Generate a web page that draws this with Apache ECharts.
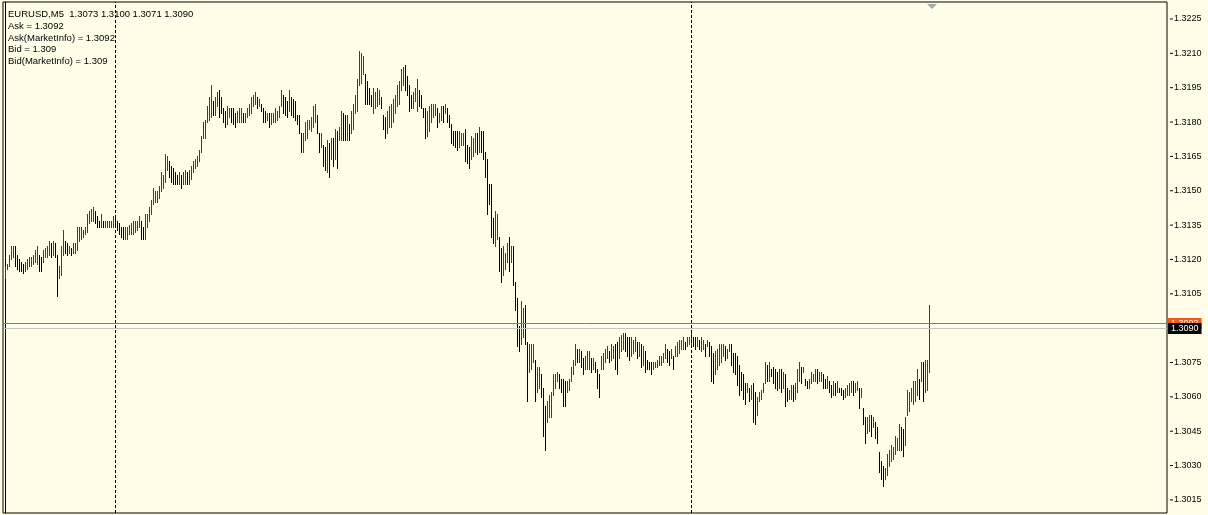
<!DOCTYPE html>
<html>
<head>
<meta charset="utf-8">
<script src="https://cdn.jsdelivr.net/npm/echarts@6/dist/echarts.min.js"></script>
<style>
html,body{margin:0;padding:0;background:#fffde8;}
#chart{width:1208px;height:515px;}
</style>
</head>
<body>
<div id="chart"></div>
<script>
// ---- data (EURUSD M5 bars, high / low) ----
const highs = [
1.3117,1.3118,1.3122,1.3126,1.3126,1.3126,1.3122,1.3120,1.3119,1.3118,
1.3119,1.3120,1.3121,1.3121,1.3122,1.3124,1.3126,1.3122,1.3121,1.3124,
1.3125,1.3126,1.3128,1.3127,1.3128,1.3127,1.3122,1.3117,1.3126,1.3133,
1.3128,1.3127,1.3126,1.3125,1.3127,1.3127,1.3134,1.3134,1.3134,1.3133,
1.3134,1.3140,1.3141,1.3142,1.3143,1.3141,1.3139,1.3137,1.3140,1.3137,
1.3137,1.3137,1.3137,1.3137,1.3139,1.3138,1.3137,1.3136,1.3134,1.3134,
1.3134,1.3134,1.3135,1.3136,1.3137,1.3137,1.3137,1.3139,1.3137,1.3134,
1.3140,1.3140,1.3143,1.3146,1.3151,1.3150,1.3150,1.3152,1.3158,1.3157,
1.3166,1.3165,1.3163,1.3161,1.3160,1.3158,1.3157,1.3158,1.3157,1.3158,
1.3159,1.3158,1.3159,1.3161,1.3163,1.3164,1.3165,1.3168,1.3174,1.3180,
1.3181,1.3187,1.3191,1.3196,1.3189,1.3191,1.3193,1.3194,1.3191,1.3186,
1.3185,1.3187,1.3186,1.3186,1.3186,1.3184,1.3185,1.3186,1.3186,1.3184,
1.3184,1.3186,1.3188,1.3191,1.3192,1.3193,1.3191,1.3190,1.3188,1.3186,
1.3185,1.3184,1.3184,1.3184,1.3184,1.3186,1.3185,1.3187,1.3194,1.3192,
1.3191,1.3189,1.3194,1.3191,1.3190,1.3189,1.3183,1.3183,1.3175,1.3175,
1.3180,1.3181,1.3181,1.3182,1.3187,1.3188,1.3183,1.3175,1.3175,1.3170,
1.3169,1.3172,1.3171,1.3173,1.3173,1.3177,1.3176,1.3178,1.3185,1.3184,
1.3183,1.3183,1.3179,1.3185,1.3188,1.3192,1.3199,1.3211,1.3210,1.3209,
1.3201,1.3198,1.3195,1.3192,1.3195,1.3193,1.3195,1.3194,1.3191,1.3183,
1.3182,1.3185,1.3187,1.3188,1.3190,1.3192,1.3196,1.3198,1.3203,1.3204,
1.3205,1.3200,1.3196,1.3192,1.3193,1.3195,1.3199,1.3194,1.3192,1.3186,
1.3186,1.3185,1.3187,1.3188,1.3188,1.3188,1.3186,1.3184,1.3187,1.3187,
1.3188,1.3186,1.3183,1.3179,1.3176,1.3176,1.3176,1.3176,1.3175,1.3175,
1.3177,1.3170,1.3169,1.3174,1.3173,1.3175,1.3175,1.3178,1.3176,1.3176,
1.3167,1.3164,1.3153,1.3153,1.3138,1.3141,1.3140,1.3130,1.3125,1.3126,
1.3123,1.3127,1.3130,1.3126,1.3126,1.3110,1.3103,1.3091,1.3102,1.3099,
1.3100,1.3084,1.3083,1.3083,1.3083,1.3076,1.3073,1.3073,1.3070,1.3064,
1.3056,1.3058,1.3061,1.3062,1.3070,1.3070,1.3071,1.3070,1.3068,1.3068,
1.3067,1.3067,1.3068,1.3073,1.3076,1.3083,1.3081,1.3081,1.3080,1.3077,
1.3078,1.3080,1.3080,1.3077,1.3077,1.3075,1.3072,1.3070,1.3078,1.3079,
1.3081,1.3082,1.3080,1.3083,1.3082,1.3083,1.3084,1.3086,1.3087,1.3088,
1.3088,1.3086,1.3086,1.3086,1.3085,1.3086,1.3084,1.3084,1.3083,1.3082,
1.3080,1.3076,1.3075,1.3075,1.3075,1.3075,1.3076,1.3078,1.3078,1.3079,
1.3083,1.3081,1.3080,1.3081,1.3078,1.3082,1.3084,1.3085,1.3085,1.3086,
1.3084,1.3086,1.3086,1.3089,1.3086,1.3086,1.3086,1.3085,1.3086,1.3085,
1.3083,1.3085,1.3084,1.3082,1.3079,1.3080,1.3081,1.3083,1.3083,1.3083,
1.3082,1.3081,1.3083,1.3083,1.3079,1.3079,1.3078,1.3074,1.3071,1.3070,
1.3066,1.3066,1.3064,1.3065,1.3066,1.3062,1.3060,1.3062,1.3063,1.3066,
1.3075,1.3074,1.3075,1.3072,1.3073,1.3072,1.3071,1.3072,1.3072,1.3071,
1.3070,1.3064,1.3063,1.3065,1.3065,1.3066,1.3072,1.3075,1.3073,1.3073,
1.3068,1.3067,1.3068,1.3071,1.3070,1.3072,1.3072,1.3071,1.3071,1.3070,
1.3068,1.3069,1.3067,1.3065,1.3067,1.3066,1.3067,1.3064,1.3064,1.3063,
1.3064,1.3065,1.3066,1.3067,1.3067,1.3066,1.3067,1.3064,1.3064,1.3055,
1.3051,1.3051,1.3052,1.3052,1.3051,1.3049,1.3047,1.3036,1.3032,1.3030,
1.3029,1.3035,1.3037,1.3039,1.3038,1.3043,1.3042,1.3048,1.3047,1.3046,
1.3051,1.3063,1.3062,1.3064,1.3067,1.3067,1.3072,1.3068,1.3075,1.3075,
1.3076,1.3076,1.3100
];
const lows = [
1.3112,1.3116,1.3117,1.3120,1.3121,1.3117,1.3116,1.3115,1.3115,1.3114,
1.3115,1.3116,1.3117,1.3117,1.3118,1.3119,1.3118,1.3115,1.3115,1.3119,
1.3121,1.3121,1.3122,1.3121,1.3122,1.3121,1.3104,1.3112,1.3113,1.3122,
1.3123,1.3122,1.3123,1.3122,1.3123,1.3123,1.3124,1.3128,1.3129,1.3130,
1.3131,1.3132,1.3136,1.3137,1.3137,1.3136,1.3134,1.3134,1.3134,1.3134,
1.3134,1.3134,1.3134,1.3134,1.3134,1.3134,1.3133,1.3131,1.3130,1.3129,
1.3129,1.3129,1.3131,1.3131,1.3131,1.3132,1.3133,1.3134,1.3129,1.3129,
1.3129,1.3134,1.3137,1.3140,1.3144,1.3145,1.3145,1.3147,1.3150,1.3151,
1.3154,1.3159,1.3156,1.3154,1.3153,1.3153,1.3153,1.3153,1.3151,1.3153,
1.3153,1.3153,1.3153,1.3155,1.3158,1.3160,1.3161,1.3163,1.3167,1.3173,
1.3173,1.3180,1.3181,1.3182,1.3183,1.3183,1.3187,1.3182,1.3184,1.3180,
1.3178,1.3179,1.3182,1.3180,1.3179,1.3178,1.3180,1.3180,1.3180,1.3180,
1.3180,1.3182,1.3183,1.3184,1.3187,1.3188,1.3186,1.3187,1.3185,1.3180,
1.3180,1.3181,1.3178,1.3179,1.3180,1.3180,1.3181,1.3182,1.3187,1.3184,
1.3183,1.3182,1.3185,1.3183,1.3182,1.3181,1.3179,1.3175,1.3167,1.3167,
1.3172,1.3173,1.3177,1.3176,1.3178,1.3180,1.3175,1.3167,1.3169,1.3161,
1.3159,1.3158,1.3156,1.3164,1.3161,1.3164,1.3160,1.3172,1.3172,1.3172,
1.3172,1.3172,1.3172,1.3175,1.3177,1.3184,1.3185,1.3196,1.3197,1.3201,
1.3188,1.3188,1.3188,1.3187,1.3184,1.3186,1.3187,1.3188,1.3186,1.3177,
1.3173,1.3175,1.3178,1.3178,1.3180,1.3184,1.3187,1.3188,1.3194,1.3196,
1.3194,1.3192,1.3185,1.3186,1.3186,1.3189,1.3185,1.3187,1.3186,1.3182,
1.3173,1.3174,1.3176,1.3180,1.3182,1.3183,1.3178,1.3180,1.3181,1.3180,
1.3184,1.3180,1.3178,1.3171,1.3170,1.3169,1.3168,1.3169,1.3170,1.3170,
1.3163,1.3162,1.3160,1.3164,1.3165,1.3167,1.3166,1.3167,1.3167,1.3164,
1.3156,1.3140,1.3144,1.3130,1.3127,1.3126,1.3129,1.3115,1.3110,1.3113,
1.3116,1.3119,1.3115,1.3119,1.3109,1.3098,1.3082,1.3080,1.3083,1.3086,
1.3083,1.3058,1.3071,1.3072,1.3075,1.3058,1.3062,1.3064,1.3060,1.3043,
1.3037,1.3049,1.3051,1.3051,1.3061,1.3064,1.3067,1.3064,1.3062,1.3056,
1.3056,1.3062,1.3063,1.3067,1.3070,1.3074,1.3075,1.3075,1.3073,1.3070,
1.3072,1.3072,1.3072,1.3071,1.3072,1.3071,1.3064,1.3060,1.3072,1.3072,
1.3075,1.3077,1.3075,1.3076,1.3077,1.3072,1.3070,1.3077,1.3080,1.3081,
1.3080,1.3078,1.3076,1.3078,1.3079,1.3080,1.3077,1.3078,1.3073,1.3074,
1.3071,1.3072,1.3072,1.3070,1.3072,1.3073,1.3073,1.3074,1.3074,1.3075,
1.3077,1.3075,1.3074,1.3077,1.3072,1.3078,1.3078,1.3079,1.3081,1.3081,
1.3081,1.3082,1.3083,1.3082,1.3082,1.3081,1.3082,1.3081,1.3080,1.3081,
1.3078,1.3082,1.3078,1.3067,1.3066,1.3070,1.3072,1.3074,1.3075,1.3078,
1.3076,1.3077,1.3080,1.3074,1.3071,1.3070,1.3065,1.3061,1.3063,1.3059,
1.3057,1.3062,1.3058,1.3059,1.3049,1.3048,1.3052,1.3058,1.3059,1.3062,
1.3066,1.3067,1.3067,1.3069,1.3066,1.3064,1.3063,1.3064,1.3062,1.3064,
1.3056,1.3058,1.3059,1.3059,1.3058,1.3059,1.3062,1.3067,1.3066,1.3071,
1.3065,1.3064,1.3064,1.3066,1.3067,1.3067,1.3066,1.3067,1.3067,1.3064,
1.3064,1.3064,1.3062,1.3060,1.3061,1.3061,1.3062,1.3062,1.3061,1.3059,
1.3060,1.3061,1.3061,1.3062,1.3061,1.3062,1.3063,1.3055,1.3060,1.3048,
1.3040,1.3044,1.3045,1.3043,1.3047,1.3042,1.3040,1.3027,1.3024,1.3021,
1.3024,1.3026,1.3030,1.3032,1.3033,1.3035,1.3037,1.3037,1.3037,1.3034,
1.3039,1.3052,1.3054,1.3058,1.3057,1.3058,1.3061,1.3059,1.3067,1.3058,
1.3062,1.3063,1.3071
];
const yTickLabels = ['1.3015','1.3030','1.3045','1.3060','1.3075','1.3090','1.3105','1.3120','1.3135','1.3150','1.3165','1.3180','1.3195','1.3210','1.3225'];
const separatorBars = [55, 343];
const askPrice = 1.3092;
const bidPrice = 1.3090;
const infoLines = [
  'EURUSD,M5  1.3073 1.3100 1.3071 1.3090',
  'Ask = 1.3092',
  'Ask(MarketInfo) = 1.3092',
  'Bid = 1.309',
  'Bid(MarketInfo) = 1.309'
];

// ---- chart ----
const UP = '#2f4545', DOWN = '#000000';
const X_MIN = -1.25, X_MAX = 580.75;
const barData = highs.map((h, i) => {
  const mid = (h + lows[i]) / 2;
  const prevMid = i > 0 ? (highs[i - 1] + lows[i - 1]) / 2 : mid;
  return [i, lows[i], h, mid >= prevMid ? 1 : 0];
});
const tickValues = yTickLabels.map(Number);
const priceLineStyles = [
  {line: '#e8600c', bg: '#f05a14'},
  {line: '#c4c4c4', bg: '#000000'}
];
const priceLineData = [[X_MIN, askPrice, 0], [X_MIN, bidPrice, 1]];

const chart = echarts.init(document.getElementById('chart'), null, {renderer: 'canvas'});
chart.setOption({
  animation: false,
  backgroundColor: '#fffde8',
  grid: {left: 3, top: 2, right: 41, bottom: 2, show: true, borderColor: '#000', borderWidth: 1, backgroundColor: 'transparent'},
  xAxis: {type: 'value', min: X_MIN, max: X_MAX, show: false},
  yAxis: {
    type: 'value', position: 'right', min: 1.300928, max: 1.323242, scale: true,
    splitLine: {show: false},
    axisLine: {show: true, lineStyle: {color: '#000', width: 1}},
    axisTick: {show: false},
    axisLabel: {
      show: true, color: '#000', fontSize: 9, fontFamily: 'Liberation Sans', margin: 3,
      customValues: tickValues,
      formatter: v => {
        const t = yTickLabels.find(s => Math.abs(Number(s) - v) < 1e-7);
        return t ? '{tk|}{v|' + t + '}' : '';
      },
      rich: {
        tk: {width: 3, height: 1, backgroundColor: '#000'},
        v: {fontSize: 9, fontFamily: 'Liberation Sans', color: '#000', padding: [0, 0, 0, 1]}
      }
    }
  },
  series: [{
    type: 'custom',
    data: barData,
    encode: {x: 0, y: [1, 2]},
    clip: true,
    z: 2,
    renderItem: (params, api) => {
      const i = api.value(0);
      const lo = api.coord([i, api.value(1)]);
      const hi = api.coord([i, api.value(2)]);
      const x = Math.floor(lo[0]) + 0.5;
      return {
        type: 'line',
        shape: {x1: x, y1: Math.round(hi[1]), x2: x, y2: Math.round(lo[1]) + 1},
        style: {stroke: api.value(3) ? UP : DOWN, lineWidth: 1}
      };
    },
    markLine: {
      silent: true, symbol: ['none', 'none'], animation: false,
      data: [
        {xAxis: separatorBars[0], lineStyle: {color: '#000', type: [3, 2], width: 1}, label: {show: false}},
        {xAxis: separatorBars[1], lineStyle: {color: '#000', type: [3, 2], width: 1}, label: {show: false}}
      ]
    }
  }, {
    type: 'custom',
    data: priceLineData,
    encode: {x: 0, y: 1},
    clip: false,
    silent: true,
    z: 3,
    renderItem: (params, api) => {
      const p = api.coord([api.value(0), api.value(1)]);
      const cs = params.coordSys;
      const st = priceLineStyles[api.value(2)];
      const y = Math.floor(p[1]) + 0.5;
      return {
        type: 'group',
        children: [
          {type: 'line', shape: {x1: cs.x + 1, y1: y, x2: cs.x + cs.width, y2: y},
            style: {stroke: st.line, lineWidth: 1}},
          {type: 'text', x: cs.x + cs.width + 1, y: y,
            style: {text: api.value(1).toFixed(4), fill: '#fff', backgroundColor: st.bg,
              padding: [1, 3, 1, 3], font: '9px "Liberation Sans"', verticalAlign: 'middle', align: 'left'}}
        ]
      };
    }
  }],
  graphic: [
    {type: 'text', left: 8, top: 9, z: 100,
      style: {text: infoLines.join('\n'), font: '9.5px "Liberation Sans"', lineHeight: 11.6, fill: '#000'}},
    {type: 'polygon', z: 100, shape: {points: [[927, 4], [937, 4], [932, 9]]}, style: {fill: '#a8a8a8'}}
  ]
});
</script>
</body>
</html>
